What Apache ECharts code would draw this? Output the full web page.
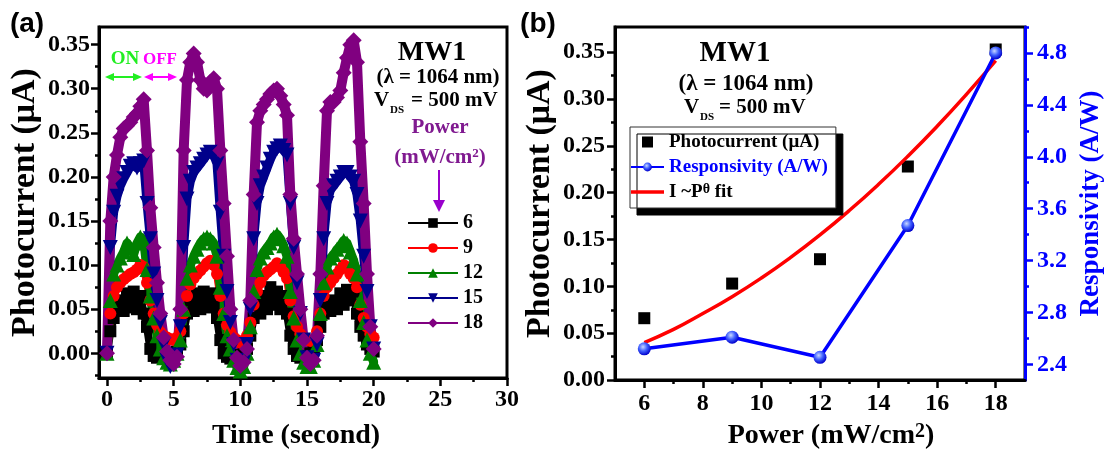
<!DOCTYPE html>
<html>
<head>
<meta charset="utf-8">
<title>MW1 photocurrent</title>
<script src="https://cdn.jsdelivr.net/npm/echarts@6/dist/echarts.min.js"></script>
<style>
  html, body { margin: 0; background: #fff; }
  #main { width: 1109px; height: 455px; }
</style>
</head>
<body>
<div id="main"></div>
<script>
// ---- panel (a): photocurrent vs time, one series per power (mW/cm2) ----
var times = [0,0.25,0.5,0.75,1,1.25,1.5,1.75,2,2.25,2.5,2.75,3,3.25,3.5,3.75,4,4.25,4.5,4.75,
  5,5.25,5.5,5.75,6,6.25,6.5,6.75,7,7.25,7.5,7.75,8,8.25,8.5,8.75,9,9.25,9.5,9.75,
  10,10.25,10.5,10.75,11,11.25,11.5,11.75,12,12.25,12.5,12.75,13,13.25,13.5,13.75,14,14.25,14.5,14.75,
  15,15.25,15.5,15.75,16,16.25,16.5,16.75,17,17.25,17.5,17.75,18,18.25,18.5,18.75,19,19.25,19.5,19.75,20];

var p6 = [0.000,0.025,0.040,0.048, 0.060,0.048,0.068,0.052, 0.070,0.050,0.065,0.045, 0.030,0.005,-0.003,-0.005,
  -0.004,-0.006,-0.003,-0.002, 0.000,0.002,0.010,0.025, 0.045,0.060,0.048,0.068, 0.050,0.070,0.052,0.068,
  0.055,0.040,0.015,0.000, -0.004,-0.006,-0.005,-0.003, -0.002,0.000,0.005,0.020, 0.040,0.055,0.045,0.065,
  0.050,0.075,0.055,0.070, 0.050,0.065,0.045,0.020, 0.005,-0.003,-0.005,-0.004, -0.003,0.000,0.005,0.015,
  0.030,0.045,0.055,0.048, 0.060,0.050,0.068,0.055, 0.072,0.060,0.070,0.045, 0.030,0.020,0.010,0.005, 0.002];
var p9 = [0.000,0.045,0.065,0.075, 0.080,0.084,0.087,0.090, 0.092,0.095,0.100,0.098, 0.080,0.060,0.045,0.032,
  0.024,0.020,0.018,0.016, 0.015,0.018,0.025,0.045, 0.065,0.078,0.085,0.090, 0.094,0.098,0.102,0.105,
  0.100,0.090,0.065,0.045, 0.032,0.024,0.018,0.015, 0.012,0.014,0.020,0.035, 0.055,0.070,0.080,0.088,
  0.092,0.095,0.098,0.102, 0.098,0.092,0.085,0.060, 0.042,0.030,0.022,0.018, 0.015,0.014,0.016,0.025,
  0.045,0.065,0.075,0.080, 0.085,0.090,0.095,0.100, 0.098,0.090,0.085,0.075, 0.055,0.040,0.030,0.022, 0.018];
var p12 = [0.000,0.060,0.090,0.100, 0.108,0.115,0.125,0.120, 0.112,0.125,0.132,0.128, 0.095,0.065,0.040,0.020,
  0.005,-0.005,-0.010,-0.012, -0.008,0.000,0.015,0.050, 0.085,0.100,0.110,0.118, 0.125,0.130,0.132,0.130,
  0.125,0.110,0.075,0.045, 0.020,0.005,-0.008,-0.016, -0.020,-0.015,0.000,0.030, 0.070,0.095,0.108,0.115,
  0.120,0.125,0.132,0.135, 0.130,0.122,0.110,0.070, 0.040,0.015,0.000,-0.010, -0.015,-0.015,-0.008,0.010,
  0.045,0.080,0.098,0.108, 0.112,0.118,0.122,0.128, 0.125,0.115,0.105,0.090, 0.060,0.035,0.015,0.000, -0.010];
var p15 = [0.000,0.120,0.160,0.178, 0.190,0.198,0.205,0.212, 0.215,0.210,0.215,0.218, 0.170,0.130,0.090,0.060,
  0.035,0.010,-0.008,-0.015, -0.012,-0.002,0.030,0.120, 0.175,0.195,0.205,0.210, 0.215,0.220,0.225,0.228,
  0.225,0.215,0.160,0.110, 0.070,0.035,0.010,-0.008, -0.015,-0.010,0.010,0.050, 0.130,0.170,0.190,0.200,
  0.210,0.220,0.228,0.232, 0.235,0.230,0.225,0.170, 0.120,0.080,0.045,0.015, -0.005,-0.012,-0.008,0.010,
  0.060,0.130,0.170,0.185, 0.190,0.195,0.200,0.205, 0.205,0.200,0.195,0.180, 0.150,0.110,0.070,0.030, 0.005];
var p18 = [0.000,0.150,0.200,0.225, 0.245,0.255,0.258,0.262, 0.268,0.272,0.280,0.288, 0.230,0.165,0.120,0.080,
  0.045,0.018,0.002,-0.008, -0.012,-0.004,0.050,0.230, 0.310,0.330,0.340,0.330, 0.310,0.300,0.298,0.308,
  0.312,0.300,0.230,0.170, 0.110,0.050,0.015,-0.005, -0.014,-0.010,0.005,0.060, 0.180,0.262,0.275,0.282,
  0.288,0.294,0.298,0.300, 0.292,0.282,0.270,0.180, 0.130,0.090,0.050,0.015, -0.005,-0.012,-0.008,0.020,
  0.090,0.190,0.275,0.285, 0.285,0.290,0.298,0.318, 0.335,0.350,0.355,0.330, 0.240,0.170,0.090,0.030, 0.005];

var timeTicks = [0, 5, 10, 15, 20, 25, 30];
var timeMinor = [2.5, 7.5, 12.5, 17.5, 22.5, 27.5];
var currentTicksA = [0, 0.05, 0.10, 0.15, 0.20, 0.25, 0.30, 0.35];
var currentMinorA = [-0.025, 0.025, 0.075, 0.125, 0.175, 0.225, 0.275, 0.325];

// ---- panel (b): power dependence ----
var powers = [6, 9, 12, 15, 18];
var photocurrent = [0.066, 0.103, 0.129, 0.228, 0.353];
var responsivity = [2.52, 2.61, 2.455, 3.47, 4.80];
var fitPower = [6, 7, 8, 9, 10, 11, 12, 13, 14, 15, 16, 17, 18];
var fitCurrent = [0.040, 0.054, 0.071, 0.089, 0.109, 0.131, 0.155, 0.181, 0.209, 0.239, 0.271, 0.305, 0.341];

var powerTicks = [6, 8, 10, 12, 14, 16, 18];
var powerMinor = [7, 9, 11, 13, 15, 17];
var currentTicksB = [0, 0.05, 0.10, 0.15, 0.20, 0.25, 0.30, 0.35];
var currentMinorB = [0.025, 0.075, 0.125, 0.175, 0.225, 0.275, 0.325];
var respTicks = [2.4, 2.8, 3.2, 3.6, 4.0, 4.4, 4.8];
var respMinor = [2.6, 3.0, 3.4, 3.8, 4.2, 4.6, 5.0];

var SERIF = '"Liberation Serif", "Times New Roman", serif';
var BLUE = '#0000ff';
var FIT = 'I ~P\u03b8 fit';

function pairs(xs, ys) {
  return xs.map(function (x, i) { return [x, ys[i]]; });
}

function mainAxis(o) {
  var c = o.color || '#000';
  return {
    type: 'value', gridIndex: o.grid, position: o.position, min: o.min, max: o.max,
    axisLine: { show: true, onZero: false, lineStyle: { color: c, width: 3 } },
    axisTick: { show: true, customValues: o.ticks, length: 8, lineStyle: { color: c, width: 2.5 } },
    axisLabel: {
      customValues: o.ticks, color: c, fontFamily: SERIF, fontWeight: 'bold', fontSize: 24,
      margin: o.margin, formatter: function (v) { return v.toFixed(o.digits); }
    },
    splitLine: { show: false },
    name: o.name, nameLocation: 'middle', nameGap: o.nameGap,
    nameTextStyle: {
      color: c, fontFamily: SERIF, fontWeight: 'bold', fontSize: o.nameSize, padding: o.namePad || 0,
      rich: { sup: { color: c, fontFamily: SERIF, fontWeight: 'bold', fontSize: 20, verticalAlign: 'top', lineHeight: 14 } }
    }
  };
}

function minorAxis(o) {
  var c = o.color || '#000';
  return {
    type: 'value', gridIndex: o.grid, position: o.position, min: o.min, max: o.max,
    axisLine: { show: false, onZero: false },
    axisTick: { show: true, customValues: o.ticks, length: 4, lineStyle: { color: c, width: 2.5 } },
    axisLabel: { show: false },
    splitLine: { show: false }
  };
}

// each power gets a wide trace (no legend entry) under the marked series,
// so the sampled points read like the dense marker trails of the original
function timeSeries(name, vals, symbol, size, color, width, rotate) {
  var data = pairs(times, vals);
  return [
    {
      type: 'line', name: name + ' trace', xAxisIndex: 0, yAxisIndex: 0, data: data,
      symbol: 'none', silent: true,
      lineStyle: { color: color, width: width, join: 'round', cap: 'round' }
    },
    {
      type: 'line', name: name, xAxisIndex: 0, yAxisIndex: 0, data: data,
      symbol: symbol, symbolSize: size, symbolRotate: rotate || 0, showAllSymbol: true,
      lineStyle: { color: color, width: 4 }, itemStyle: { color: color }
    }
  ];
}

function txt(x, y, text, size, color, align, extra) {
  var st = {
    text: text, x: 0, y: 0, fill: color || '#000',
    font: 'bold ' + size + 'px ' + SERIF,
    textAlign: align || 'center', textVerticalAlign: 'middle'
  };
  if (extra) { for (var k in extra) st[k] = extra[k]; }
  return { type: 'text', x: x, y: y, style: st, z: 100 };
}

function hArrow2(x1, x2, y, color) {
  return [
    { type: 'line', shape: { x1: x1 + 5, y1: y, x2: x2 - 5, y2: y }, style: { stroke: color, lineWidth: 2 }, z: 100 },
    { type: 'polygon', shape: { points: [[x1, y], [x1 + 9, y - 4], [x1 + 9, y + 4]] }, style: { fill: color }, z: 100 },
    { type: 'polygon', shape: { points: [[x2, y], [x2 - 9, y - 4], [x2 - 9, y + 4]] }, style: { fill: color }, z: 100 }
  ];
}

var supRich = { sup: { fill: '#801a90', font: 'bold 13px ' + SERIF, verticalAlign: 'top', lineHeight: 12 } };

var graphics = [
  txt(27, 24, '(a)', 28, '#000', 'center', { font: 'bold 28px "Liberation Sans", Arial, sans-serif' }),
  txt(538, 24, '(b)', 28, '#000', 'center', { font: 'bold 28px "Liberation Sans", Arial, sans-serif' }),
  txt(125, 59, 'ON', 19, '#22ee22'),
  txt(160, 60, 'OFF', 17, '#ff00ff'),
  // panel (a) labels
  txt(432, 53, 'MW1', 28),
  txt(438, 78, '(\u03bb = 1064 nm)', 21),
  txt(374, 101, 'V', 21, '#000', 'left'),
  txt(390, 110, 'DS', 11, '#000', 'left'),
  txt(411, 101, '= 500 mV', 21, '#000', 'left'),
  txt(440, 128, 'Power', 21, '#801a90'),
  txt(440, 158, '(mW/cm{sup|2})', 21, '#801a90', 'center', { rich: supRich }),
  { type: 'line', shape: { x1: 439, y1: 170, x2: 439, y2: 203 }, style: { stroke: '#9900cc', lineWidth: 2 }, z: 100 },
  { type: 'polygon', shape: { points: [[433, 200], [445, 200], [439, 212]] }, style: { fill: '#9900cc' }, z: 100 },
  // panel (b) labels
  txt(735, 54, 'MW1', 29),
  txt(746, 84, '(\u03bb = 1064 nm)', 23),
  txt(684, 108, 'V', 21, '#000', 'left'),
  txt(700, 117, 'DS', 11, '#000', 'left'),
  txt(719, 108, '= 500 mV', 21, '#000', 'left')
].concat(hArrow2(105, 142, 77, '#22ee22'), hArrow2(144, 177, 77, '#ff00ff'));

var option = {
  animation: false,
  backgroundColor: '#fff',
  grid: [
    { left: 99, top: 27, width: 408, height: 351, show: true, borderColor: '#000', borderWidth: 3, backgroundColor: 'transparent' },
    { left: 615, top: 27, width: 410, height: 355, show: true, borderColor: '#000', borderWidth: 3, backgroundColor: 'transparent' }
  ],
  xAxis: [
    mainAxis({ grid: 0, position: 'bottom', min: -0.6, max: 30, ticks: timeTicks, digits: 0, margin: 10,
      name: 'Time (second)', nameGap: 44, nameSize: 28, namePad: [0, 14, 0, 0] }),
    minorAxis({ grid: 0, position: 'bottom', min: -0.6, max: 30, ticks: timeMinor }),
    mainAxis({ grid: 1, position: 'bottom', min: 5, max: 19, ticks: powerTicks, digits: 0, margin: 12,
      name: 'Power (mW/cm{sup|2})', nameGap: 42, nameSize: 28, namePad: [0, 0, 0, 22] }),
    minorAxis({ grid: 1, position: 'bottom', min: 5, max: 19, ticks: powerMinor })
  ],
  yAxis: [
    mainAxis({ grid: 0, position: 'left', min: -0.028, max: 0.37, ticks: currentTicksA, digits: 2, margin: 9,
      name: 'Photocurrent (\u03bcA)', nameGap: 57, nameSize: 34 }),
    minorAxis({ grid: 0, position: 'left', min: -0.028, max: 0.37, ticks: currentMinorA }),
    mainAxis({ grid: 1, position: 'left', min: 0, max: 0.377, ticks: currentTicksB, digits: 2, margin: 10,
      name: 'Photocurrent (\u03bcA)', nameGap: 58, nameSize: 34 }),
    minorAxis({ grid: 1, position: 'left', min: 0, max: 0.377, ticks: currentMinorB }),
    mainAxis({ grid: 1, position: 'right', min: 2.28, max: 5.0, ticks: respTicks, digits: 1, margin: 12, color: BLUE,
      name: 'Responsivity (A/W)', nameGap: 53, nameSize: 27 }),
    minorAxis({ grid: 1, position: 'right', min: 2.28, max: 5.0, ticks: respMinor, color: BLUE })
  ],
  legend: [
    {
      data: ['6', '9', '12', '15', '18'], orient: 'vertical', left: 407, top: 213,
      itemWidth: 50, itemHeight: 12, itemGap: 5, padding: 0, selectedMode: false,
      textStyle: { color: '#000', fontFamily: SERIF, fontWeight: 'bold', fontSize: 20, lineHeight: 20 }
    },
    {
      data: [
        { name: 'Photocurrent (\u03bcA)', icon: 'path://M0,0h10v10h-10z' },
        { name: 'Responsivity (A/W)', textStyle: { color: BLUE } },
        { name: FIT, icon: 'path://M0,0h33v3.5h-33z' }
      ],
      orient: 'vertical', left: 630, top: 127, padding: [5, 8, 6, 0],
      itemWidth: 33, itemHeight: 11, itemGap: 5, selectedMode: false,
      backgroundColor: '#fff', borderColor: '#333', borderWidth: 1,
      shadowColor: '#000', shadowBlur: 0, shadowOffsetX: 7, shadowOffsetY: 7,
      formatter: function (name) { return name === FIT ? 'I ~P{sup|\u03b8} fit' : name; },
      textStyle: {
        color: '#000', fontFamily: SERIF, fontWeight: 'bold', fontSize: 19, lineHeight: 20,
        rich: { sup: { color: '#000', fontFamily: SERIF, fontWeight: 'bold', fontSize: 14, verticalAlign: 'top', lineHeight: 12 } }
      }
    }
  ],
  series: [].concat(
    timeSeries('6', p6, 'rect', 12, '#000000', 8),
    timeSeries('9', p9, 'circle', 12, '#ff0000', 8),
    timeSeries('12', p12, 'triangle', 15, '#008000', 9),
    timeSeries('15', p15, 'triangle', 15, '#00008b', 9, 180),
    timeSeries('18', p18, 'diamond', 16, '#800080', 10),
    [
      {
        type: 'line', name: FIT, xAxisIndex: 2, yAxisIndex: 2, data: pairs(fitPower, fitCurrent),
        smooth: true, symbol: 'none', lineStyle: { color: '#ff0000', width: 3.5 }, itemStyle: { color: '#ff0000' }
      },
      {
        type: 'scatter', name: 'Photocurrent (\u03bcA)', xAxisIndex: 2, yAxisIndex: 2, data: pairs(powers, photocurrent),
        symbol: 'rect', symbolSize: 12, itemStyle: { color: '#000', opacity: 1 }
      },
      {
        type: 'line', name: 'Responsivity (A/W)', xAxisIndex: 2, yAxisIndex: 4, data: pairs(powers, responsivity),
        symbol: 'circle', symbolSize: 13, lineStyle: { color: BLUE, width: 3.5 },
        itemStyle: {
          color: { type: 'radial', x: 0.4, y: 0.35, r: 0.65,
            colorStops: [{ offset: 0, color: '#c8d8ff' }, { offset: 0.5, color: '#4060ff' }, { offset: 1, color: '#0000cc' }] }
        }
      }
    ]
  ),
  graphic: graphics
};

var myChart = echarts.init(document.getElementById('main'));
myChart.setOption(option);
window.addEventListener('resize', function () {
  myChart.resize();
});
</script>
</body>
</html>
